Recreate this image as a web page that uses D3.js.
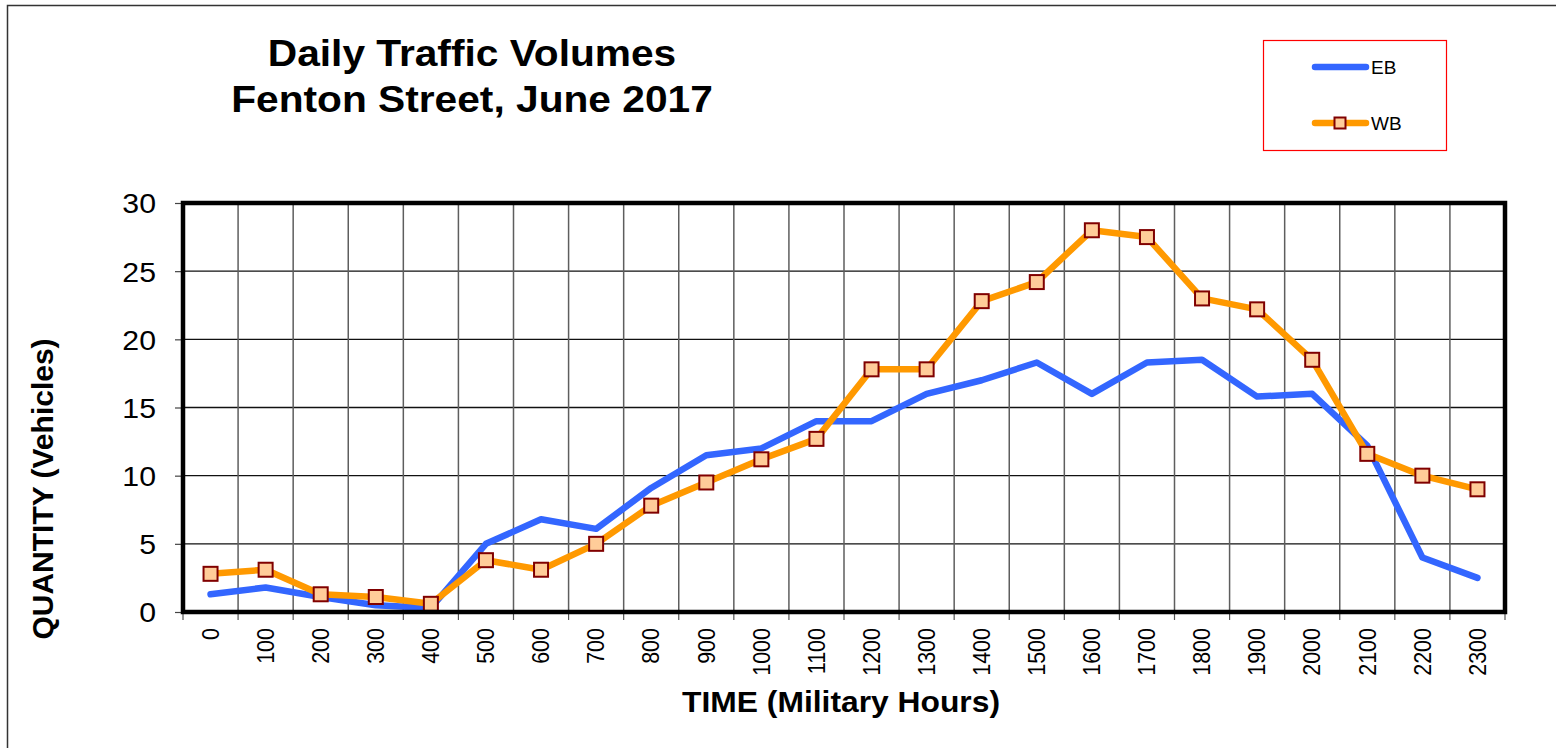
<!DOCTYPE html>
<html>
<head>
<meta charset="utf-8">
<script src="https://cdn.jsdelivr.net/npm/d3@7"></script>
<style>
    body { margin: 0; background: #fff; }
    svg { display: block; font-family: Arial, "Liberation Sans", sans-serif; }
</style>
</head>
<body>
<svg></svg>
<script>
//-------------------
//  DATA
//-------------------
var hours = ["0", "100", "200", "300", "400", "500", "600", "700", "800", "900", "1000", "1100",
             "1200", "1300", "1400", "1500", "1600", "1700", "1800", "1900", "2000", "2100", "2200", "2300"];
var eb = [1.3, 1.8, 1.1, 0.5, 0.3, 5.0, 6.8, 6.1, 9.1, 11.5, 12.0, 14.0,
          14.0, 16.0, 17.0, 18.3, 16.0, 18.3, 18.5, 15.8, 16.0, 12.2, 4.0, 2.5];
var wb = [2.8, 3.1, 1.3, 1.1, 0.6, 3.8, 3.1, 5.0, 7.8, 9.5, 11.2, 12.7,
          17.8, 17.8, 22.8, 24.2, 28.0, 27.5, 23.0, 22.2, 18.5, 11.6, 10.0, 9.0];
var yTicks = [0, 5, 10, 15, 20, 25, 30];
var titleLines = ["Daily Traffic Volumes", "Fenton Street, June 2017"];

//-------------------
//  SETUP
//-------------------
var width = 1556,
    height = 748;

var svg = d3.select("svg")
    .attr("width", width)
    .attr("height", height);

var plot = { left: 183, right: 1505, top: 203, bottom: 612 };

var x = d3.scaleBand()
    .domain(hours)
    .range([plot.left, plot.right])
    .padding(0);

var y = d3.scaleLinear()
    .domain([0, 30])
    .range([plot.bottom, plot.top]);

// outer chart border
svg.append("rect")
    .attr("x", 7.5)
    .attr("y", 5.5)
    .attr("width", width + 20)
    .attr("height", height + 20)
    .attr("fill", "none")
    .attr("stroke", "#333")
    .attr("stroke-width", 1.5);

//-------------------
//  TITLE
//-------------------
svg.selectAll("g.title").data(titleLines)
    .enter()
    .append("g")
    .attr("class", "title")
    .attr("transform", (d, i) => `translate(472, ${66 + i * 46}) scale(1.1, 1)`)
    .append("text")
    .attr("text-anchor", "middle")
    .attr("font-size", 37)
    .attr("font-weight", "bold")
    .text(d => d);

//-------------------
//  GRID
//-------------------
svg.append("g")
    .attr("class", "grid-h")
    .selectAll("line").data(yTicks.slice(1, -1))
    .enter()
    .append("line")
    .attr("x1", plot.left)
    .attr("x2", plot.right)
    .attr("y1", d => y(d))
    .attr("y2", d => y(d))
    .attr("stroke", "#111")
    .attr("stroke-width", 1.3);

svg.append("g")
    .attr("class", "grid-v")
    .selectAll("line").data(hours.slice(1))
    .enter()
    .append("line")
    .attr("x1", d => x(d))
    .attr("x2", d => x(d))
    .attr("y1", plot.top)
    .attr("y2", plot.bottom)
    .attr("stroke", "#5e5e5e")
    .attr("stroke-width", 1.5);

//-------------------
//  AXES
//-------------------
var yAxis = d3.axisLeft(y)
    .tickValues(yTicks)
    .tickSize(8)
    .tickPadding(0)
    .tickFormat(d3.format("d"));

var yAxisG = svg.append("g")
    .attr("transform", `translate(${plot.left}, 0)`)
    .call(yAxis);
yAxisG.select(".domain").remove();
yAxisG.selectAll(".tick line").attr("stroke", "#444").attr("stroke-width", 1.2);
yAxisG.selectAll(".tick text").remove();
yAxisG.selectAll(".tick")
    .append("g")
    .attr("transform", "translate(-27, 0) scale(1.1, 1)")
    .append("text")
    .attr("text-anchor", "end")
    .attr("dy", "0.36em")
    .attr("font-size", 27.5)
    .attr("fill", "#000")
    .text(d => d);

// x ticks on category boundaries
var bounds = hours.map(d => x(d)).concat([plot.right]);
svg.append("g")
    .attr("class", "x-ticks")
    .selectAll("line").data(bounds)
    .enter()
    .append("line")
    .attr("x1", d => d)
    .attr("x2", d => d)
    .attr("y1", plot.bottom)
    .attr("y2", plot.bottom + 8)
    .attr("stroke", "#555")
    .attr("stroke-width", 1.2);

var xAxis = d3.axisBottom(x).tickSize(0).tickPadding(0);
var xAxisG = svg.append("g")
    .attr("transform", `translate(0, ${plot.bottom})`)
    .call(xAxis);
xAxisG.select(".domain").remove();
xAxisG.selectAll(".tick text").remove();
xAxisG.selectAll(".tick")
    .append("g")
    .attr("transform", "translate(0, 16) rotate(-90) scale(1, 1.1)")
    .append("text")
    .attr("text-anchor", "end")
    .attr("dy", "0.35em")
    .attr("font-size", 21.5)
    .attr("fill", "#000")
    .text(d => d);

// axis titles
svg.append("text")
    .attr("transform", "translate(53, 489) rotate(-90)")
    .attr("text-anchor", "middle")
    .attr("font-size", 30)
    .attr("font-weight", "bold")
    .text("QUANTITY (Vehicles)");

svg.append("g")
    .attr("transform", "translate(841, 712) scale(1.06, 1)")
    .append("text")
    .attr("text-anchor", "middle")
    .attr("font-size", 30)
    .attr("font-weight", "bold")
    .text("TIME (Military Hours)");

//-------------------
//  LINES
//-------------------
var line = d3.line()
    .x((d, i) => x(hours[i]) + x.bandwidth() / 2)
    .y(d => y(d));

svg.append("path")
    .datum(eb)
    .attr("class", "eb")
    .attr("fill", "none")
    .attr("stroke", "#3366ff")
    .attr("stroke-width", 6.5)
    .attr("stroke-linejoin", "round")
    .attr("stroke-linecap", "round")
    .attr("d", line);

svg.append("path")
    .datum(wb)
    .attr("class", "wb")
    .attr("fill", "none")
    .attr("stroke", "#ff9900")
    .attr("stroke-width", 6.5)
    .attr("stroke-linejoin", "round")
    .attr("stroke-linecap", "round")
    .attr("d", line);

var markerSize = 14;
svg.append("g")
    .attr("class", "wb-markers")
    .selectAll("rect").data(wb)
    .enter()
    .append("rect")
    .attr("x", (d, i) => x(hours[i]) + x.bandwidth() / 2 - markerSize / 2)
    .attr("y", d => y(d) - markerSize / 2)
    .attr("width", markerSize)
    .attr("height", markerSize)
    .attr("fill", "#ffcc99")
    .attr("stroke", "#800000")
    .attr("stroke-width", 2);

// plot frame
svg.append("rect")
    .attr("x", plot.left)
    .attr("y", plot.top)
    .attr("width", plot.right - plot.left)
    .attr("height", plot.bottom - plot.top)
    .attr("fill", "none")
    .attr("stroke", "#000")
    .attr("stroke-width", 4.5);

//-------------------
//  LEGEND
//-------------------
var legend = svg.append("g").attr("class", "legend");

legend.append("rect")
    .attr("x", 1263.5)
    .attr("y", 40.5)
    .attr("width", 183)
    .attr("height", 110)
    .attr("fill", "#fff")
    .attr("stroke", "#ff0000")
    .attr("stroke-width", 1.2);

var legendItems = [
    { name: "EB", color: "#3366ff", marker: false, y: 67 },
    { name: "WB", color: "#ff9900", marker: true, y: 123 }
];

legendItems.forEach(item => {
    legend.append("line")
        .attr("x1", 1315)
        .attr("x2", 1366)
        .attr("y1", item.y)
        .attr("y2", item.y)
        .attr("stroke", item.color)
        .attr("stroke-width", 6.5)
        .attr("stroke-linecap", "round");
    if (item.marker) {
        legend.append("rect")
            .attr("x", 1340 - 5.5)
            .attr("y", item.y - 5.5)
            .attr("width", 11)
            .attr("height", 11)
            .attr("fill", "#ffcc99")
            .attr("stroke", "#800000")
            .attr("stroke-width", 2);
    }
    legend.append("text")
        .attr("x", 1371)
        .attr("y", item.y + 7)
        .attr("font-size", 19)
        .text(item.name);
});
</script>
</body>
</html>
